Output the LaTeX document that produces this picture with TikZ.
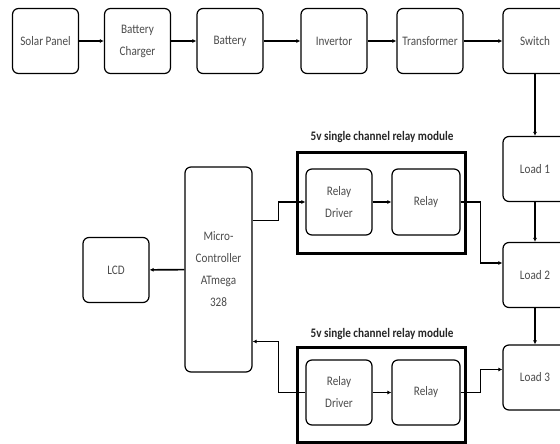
\documentclass[tikz,border=0pt]{standalone}
\usepackage{fontspec}
\setmainfont{Carlito}
\newfontfamily\narrowfont[FakeStretch=0.86]{Carlito}
\usetikzlibrary{arrows.meta, positioning}
\tikzset{
    myarrow/.style={-{Latex[length=4pt,width=4pt]}, line width=1.6pt},
    thinarrow/.style={-{Latex[length=4pt,width=4pt]}, line width=1.1pt},
    box/.style={draw, rectangle, rounded corners=6pt, line width=1.2pt, font=\narrowfont\fontsize{13}{22}\selectfont, text=black!70, fill=white, minimum width=66pt, minimum height=65pt, align=center, inner sep=1pt},
    modbox/.style={draw, rectangle, line width=3pt, minimum width=168pt, minimum height=101pt},
    modtitle/.style={font=\narrowfont\bfseries\fontsize{13}{15}\selectfont, text=black!85}
}

\begin{document}
\begin{tikzpicture}[x=1pt, y=-1pt]
    \useasboundingbox (0,0) rectangle (560,444);
    \clip (0,0) rectangle (560,444);
    % top row
    \node (solar) [box] at (45.5,41) {Solar Panel};
    \node (charger) [box] at (137.5,41) {Battery\\Charger};
    \node (battery) [box] at (230,41) {Battery};
    \node (invertor) [box] at (334,41) {Invertor};
    \node (trans) [box] at (430,41) {Transformer};
    \node (switch) [box, minimum width=64pt] at (535,41) {Switch};
    % loads
    \node (load1) [box, minimum width=64pt] at (535,169) {Load 1};
    \node (load2) [box, minimum width=64pt] at (535,275) {Load 2};
    \node (load3) [box, minimum width=64pt] at (535,377.5) {Load 3};
    % controller
    \node (mcu) [box, minimum width=67pt, minimum height=205pt] at (218.5,269.5) {Micro-\\Controller\\ATmega\\328};
    \node (lcd) [box] at (116,270) {LCD};
    % relay modules
    \node (mod1) [modbox] at (381,202.5) {};
    \node (title1) [modtitle] at (382,137) {5v single channel relay module};
    \node (drv1) [box, minimum height=66pt] at (339,202) {Relay\\Driver};
    \node (rel1) [box, minimum width=68pt, minimum height=66pt] at (426,202) {Relay};
    \node (mod2) [modbox, minimum height=95pt] at (381,394.5) {};
    \node (title2) [modtitle] at (382,334) {5v single channel relay module};
    \node (drv2) [box] at (339,392.5) {Relay\\Driver};
    \node (rel2) [box, minimum width=68pt] at (426,392.5) {Relay};

    \draw [myarrow] (solar) -- (charger);
    \draw [myarrow] (charger) -- (battery);
    \draw [myarrow] (battery) -- (invertor);
    \draw [myarrow] (invertor) -- (trans);
    \draw [myarrow] (trans) -- (switch);
    \draw [thinarrow] (switch) -- (load1);
    \draw [thinarrow] (load1) -- (load2);
    \draw [thinarrow] (load2) -- (load3);
    \draw [myarrow] (mcu) -- (lcd);
    \draw [myarrow] ([yshift=49pt]mcu.east) -- ++(26,0) |- (drv1.west);
    \draw [myarrow] (drv1) -- (rel1);
    \draw [myarrow] (rel1.east) -- ++(20,0) |- ([yshift=12pt]load2.west);
    \draw [myarrow] (drv2.west) -- ++(-27,0) |- ([yshift=-72pt]mcu.east);
    \draw [myarrow] (drv2) -- (rel2);
    \draw [myarrow] (rel2.east) -- ++(20,0) |- ([yshift=8pt]load3.west);
\end{tikzpicture}
\end{document}
